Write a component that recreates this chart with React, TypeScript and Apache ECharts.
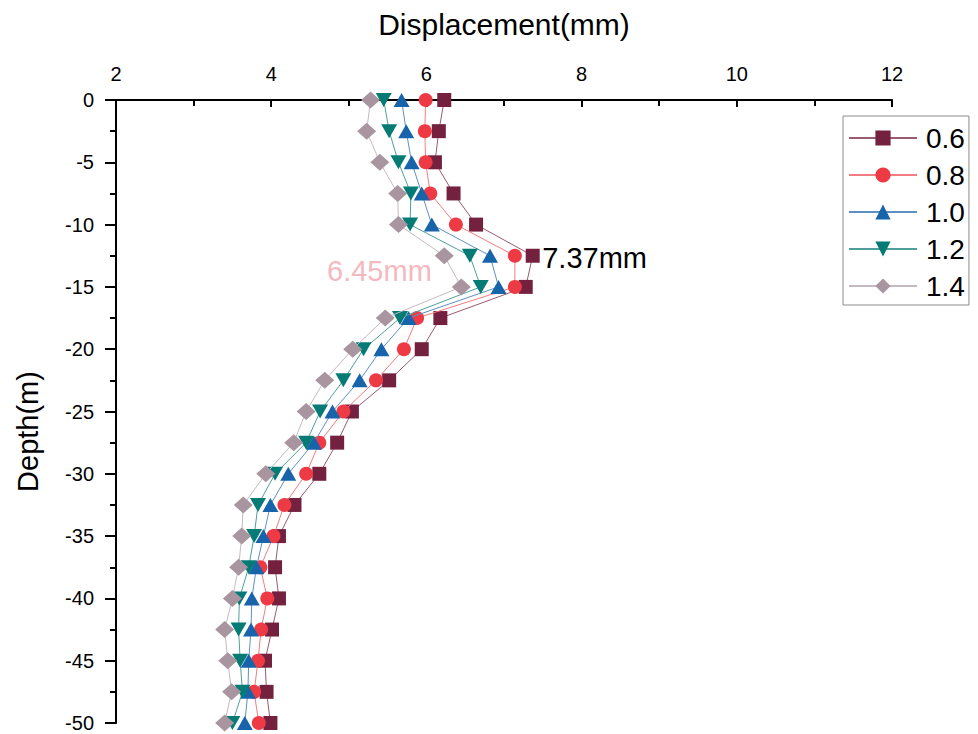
import React, { useEffect, useRef } from "react";
import * as echarts from "echarts";

const depths = [0, -2.5, -5, -7.5, -10, -12.5, -15, -17.5, -20, -22.5, -25, -27.5, -30, -32.5, -35, -37.5, -40, -42.5, -45, -47.5, -50];

const seriesNames = ["0.6", "0.8", "1.0", "1.2", "1.4"];

const s06 = [6.23, 6.16, 6.11, 6.35, 6.64, 7.37, 7.28, 6.18, 5.94, 5.52, 5.04, 4.85, 4.62, 4.30, 4.10, 4.05, 4.10, 4.01, 3.92, 3.94, 3.99];
const s08 = [5.99, 5.98, 5.99, 6.05, 6.38, 7.14, 7.14, 5.88, 5.71, 5.35, 4.93, 4.62, 4.45, 4.17, 4.03, 3.86, 3.95, 3.87, 3.83, 3.78, 3.84];
const s10 = [5.68, 5.74, 5.81, 5.94, 6.07, 6.82, 6.93, 5.77, 5.42, 5.14, 4.79, 4.55, 4.22, 3.99, 3.90, 3.81, 3.75, 3.74, 3.71, 3.70, 3.66];
const s12 = [5.45, 5.52, 5.64, 5.80, 5.79, 6.56, 6.70, 5.66, 5.19, 4.93, 4.63, 4.45, 4.05, 3.83, 3.78, 3.71, 3.59, 3.58, 3.60, 3.63, 3.50];
const s14 = [5.28, 5.23, 5.40, 5.63, 5.64, 6.23, 6.45, 5.47, 5.05, 4.69, 4.45, 4.29, 3.93, 3.64, 3.62, 3.58, 3.50, 3.40, 3.44, 3.49, 3.40];

const xTicks = [2, 4, 6, 8, 10, 12];
const yTicks = [0, -5, -10, -15, -20, -25, -30, -35, -40, -45, -50];

const maxLabel06 = { value: 7.37, depth: -12.5, text: "7.37mm" };
const maxLabel14 = { value: 6.45, depth: -15, text: "6.45mm" };

const FONT = "'Liberation Sans', Arial, sans-serif";

export default function App() {
  const ref = useRef<HTMLDivElement>(null);

  useEffect(() => {
    if (!ref.current) return;
    const chart = echarts.init(ref.current, undefined, { renderer: "svg" });

    const allValues = [s06, s08, s10, s12, s14];
    const markerColors = ["#74213F", "#EE3A44", "#1764AB", "#067B76", "#A8959F"];
    const lineColors = ["#9A5A70", "#F27C82", "#5D90C4", "#4E9F9B", "#C6B8C2"];
    const symbols = ["rect", "circle", "triangle", "triangle", "diamond"];
    const sizes: any[] = [14, 14, [16, 14], [16, 14], [19, 17]];
    const rotates = [0, 0, 0, 180, 0];

    const series = allValues.map((vals, i) => {
      const s: any = {
        name: seriesNames[i],
        type: "line",
        data: vals.map((v, k) => [v, depths[k]]),
        symbol: symbols[i],
        symbolSize: sizes[i],
        symbolRotate: rotates[i],
        itemStyle: { color: markerColors[i] },
        lineStyle: { color: lineColors[i], width: 1 },
        z: 2 + i,
      };
      if (i === 0) {
        s.markPoint = {
          symbol: "circle",
          symbolSize: 1,
          itemStyle: { color: "rgba(0,0,0,0)" },
          data: [
            {
              coord: [maxLabel06.value, maxLabel06.depth],
              label: {
                show: true,
                formatter: maxLabel06.text,
                position: "right",
                distance: 9,
                offset: [0, 2],
                color: "#000",
                fontSize: 29,
                fontFamily: FONT,
              },
            },
          ],
        };
      }
      if (i === 4) {
        s.markPoint = {
          symbol: "circle",
          symbolSize: 1,
          itemStyle: { color: "rgba(0,0,0,0)" },
          data: [
            {
              coord: [maxLabel14.value, maxLabel14.depth],
              label: {
                show: true,
                formatter: maxLabel14.text,
                position: "left",
                distance: 29,
                offset: [0, -16],
                color: "#F4B8C0",
                fontSize: 29,
                fontFamily: FONT,
              },
            },
          ],
        };
      }
      return s;
    });

    chart.setOption({
      animation: false,
      backgroundColor: "#fff",
      grid: { left: 116, right: 86, top: 100, bottom: 11, containLabel: false, outerBoundsMode: "none" },
      legend: {
        data: seriesNames,
        orient: "vertical",
        left: 843,
        top: 116,
        padding: [8, 4, 5, 5],
        itemWidth: 68,
        itemHeight: 19,
        itemGap: 9,
        borderColor: "#8c8c8c",
        borderWidth: 1,
        textStyle: {
          fontSize: 28,
          lineHeight: 28,
          fontFamily: FONT,
          color: "#000",
          padding: [0, 0, 0, 4],
        },
      },
      xAxis: {
        type: "value",
        position: "top",
        min: xTicks[0],
        max: xTicks[xTicks.length - 1],
        interval: 2,
        name: "Displacement(mm)",
        nameLocation: "middle",
        nameGap: 61,
        nameTextStyle: { fontSize: 30, fontFamily: FONT, color: "#000" },
        axisLine: { show: true, onZero: false, lineStyle: { color: "#000", width: 2 } },
        axisTick: { show: true, inside: true, length: 7, lineStyle: { color: "#000", width: 2 } },
        minorTick: { show: true, splitNumber: 2, length: 6, lineStyle: { color: "#000", width: 2 } },
        axisLabel: { fontSize: 20, fontFamily: FONT, color: "#000", margin: 16 },
        splitLine: { show: false },
      },
      yAxis: {
        type: "value",
        min: yTicks[yTicks.length - 1],
        max: yTicks[0],
        interval: 5,
        name: "Depth(m)",
        nameLocation: "middle",
        nameGap: 74,
        nameRotate: 90,
        nameTextStyle: { fontSize: 29, fontFamily: FONT, color: "#000", padding: [0, 40, 0, 0] },
        axisLine: { show: true, onZero: false, lineStyle: { color: "#000", width: 2 } },
        axisTick: { show: true, inside: false, length: 11, lineStyle: { color: "#000", width: 2 } },
        minorTick: { show: true, splitNumber: 2, length: 6, lineStyle: { color: "#000", width: 2 } },
        axisLabel: { fontSize: 20, fontFamily: FONT, color: "#000", margin: 22 },
        splitLine: { show: false },
      },
      series,
    });

    return () => chart.dispose();
  }, []);

  return <div ref={ref} style={{ width: 978, height: 734, position: "absolute", left: 0, top: 0 }} />;
}
